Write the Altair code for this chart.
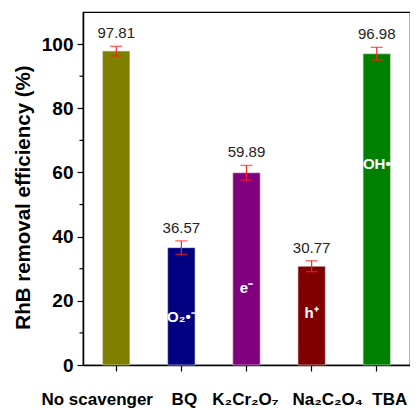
import altair as alt
import pandas as pd

categories = ["No scavenger", "BQ", "K₂Cr₂O₇", "Na₂C₂O₄", "TBA"]
values = [97.81, 36.57, 59.89, 30.77, 96.98]
errors = [1.5, 2.1, 2.3, 1.7, 2.0]
colors = ["#808000", "#000080", "#800080", "#800000", "#008000"]
value_labels = ["97.81", "36.57", "59.89", "30.77", "96.98"]
inner_labels = ["", "O₂•⁻", "e⁻", "h⁺", "OH•"]
inner_pos = [0, 15, 24, 16.3, 62.5]
minor_ticks = [10, 30, 50, 70, 90]
label_shift = [-19, 3, -1, 16, 13]

df = pd.DataFrame({
    "cat": categories,
    "val": values,
    "lo": [v - e for v, e in zip(values, errors)],
    "hi": [v + e for v, e in zip(values, errors)],
    "lab": value_labels,
    "inner": inner_labels,
    "ipos": inner_pos,
})
minor_df = pd.DataFrame({"m": minor_ticks})

FONT = "Liberation Sans"

offset_cond = {
    "condition": [
        {"test": f"datum.value === '{c}'", "value": s}
        for c, s in zip(categories, label_shift)
    ],
    "value": 0,
}

x = alt.X("cat:N", sort=categories, title=None,
          scale=alt.Scale(paddingInner=0.58, paddingOuter=0.3),
          axis=alt.Axis(labelAngle=0, labelFont=FONT, labelFontSize=17,
                        labelFontWeight="bold", labelColor="black",
                        labelPadding=20, tickSize=6, tickColor="black",
                        domainColor="black", domainWidth=1.5, tickWidth=1.2,
                        labelOffset=offset_cond))
y = alt.Y("val:Q", title="RhB removal efficiency (%)",
          scale=alt.Scale(domain=[0, 110], nice=False),
          axis=alt.Axis(values=[0, 20, 40, 60, 80, 100], grid=False,
                        labelFont=FONT, labelFontSize=19, labelFontWeight="bold",
                        labelColor="black", tickSize=6, tickColor="black",
                        tickWidth=1.2, domainColor="black", domainWidth=1.5,
                        titleFont=FONT, titleFontSize=20.5, titleFontWeight="bold",
                        titleColor="black", titlePadding=8, labelPadding=4,
                        titleY=185))

base = alt.Chart(df)

bars = base.mark_bar(stroke="#dddddd", strokeWidth=0.6).encode(
    x=x, y=y,
    color=alt.Color("cat:N", sort=categories,
                    scale=alt.Scale(domain=categories, range=colors), legend=None),
)

err_rule = base.mark_rule(color="#ff2020", strokeWidth=1.2).encode(
    x=alt.X("cat:N", sort=categories), y="lo:Q", y2="hi:Q")
cap_hi = base.mark_tick(color="#ff2020", size=12, thickness=1.3).encode(
    x=alt.X("cat:N", sort=categories), y="hi:Q")
cap_lo = base.mark_tick(color="#ff2020", size=12, thickness=1.3).encode(
    x=alt.X("cat:N", sort=categories), y="lo:Q")

val_text = base.mark_text(font=FONT, fontSize=15, color="#222222",
                          baseline="bottom", dy=-5).encode(
    x=alt.X("cat:N", sort=categories), y="hi:Q", text="lab:N")

inner_text = base.mark_text(font=FONT, fontSize=15, fontWeight="bold",
                            color="white", baseline="middle").encode(
    x=alt.X("cat:N", sort=categories), y="ipos:Q", text="inner:N")

minor = alt.Chart(minor_df).mark_rule(color="black", strokeWidth=1.2).encode(
    y="m:Q", x=alt.value(-3.5), x2=alt.value(0))

chart = alt.layer(bars, err_rule, cap_hi, cap_lo, val_text, inner_text, minor).properties(
    width=327, height=353,
    autosize=alt.AutoSizeParams(type="none"),
    padding={"left": 75, "top": 4, "right": 0, "bottom": 45},
).configure_view(stroke="black", strokeWidth=1.2)

chart.save("out.html", embed_options={"renderer": "svg", "actions": False})
